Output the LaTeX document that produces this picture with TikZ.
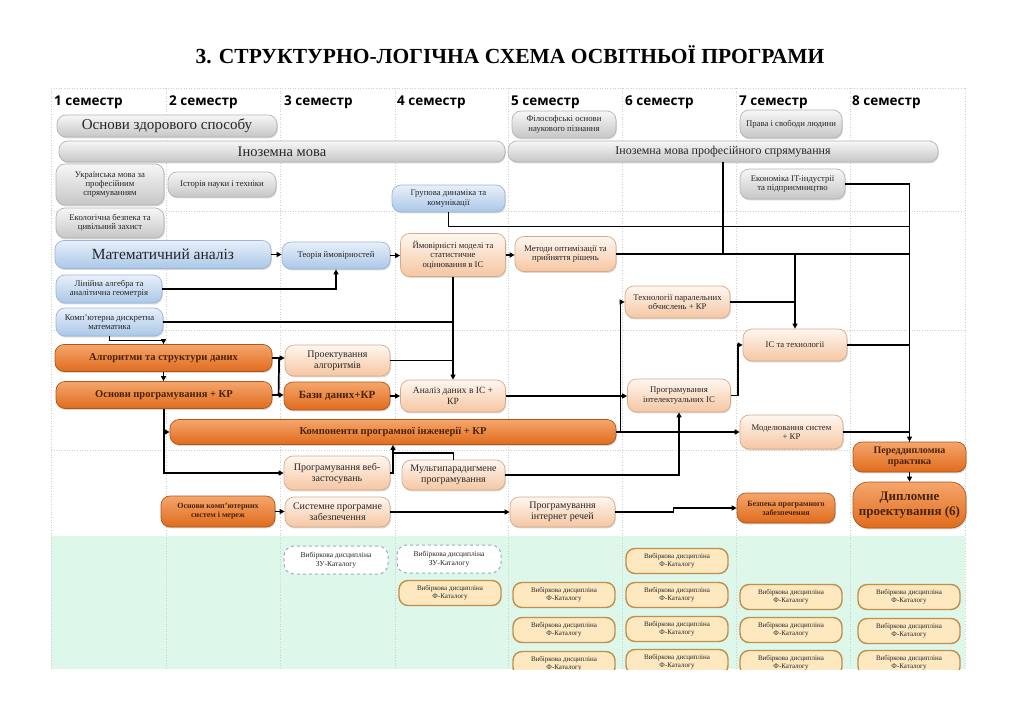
\documentclass[tikz,border=0pt]{standalone}
\usepackage{fontspec}
\setmainfont{Liberation Serif}
\newfontfamily\hdrfont{Open Sans}
\usetikzlibrary{arrows.meta,shadows,calc}
\definecolor{txt}{HTML}{262626}
\definecolor{otxt}{HTML}{4A2208}
\definecolor{gridc}{HTML}{D0D0D0}
\definecolor{mint}{HTML}{DDF7EB}
\definecolor{gtop}{HTML}{F7F7F7}
\definecolor{gbot}{HTML}{C6C6C6}
\definecolor{gdraw}{HTML}{B5B5B5}
\definecolor{btop}{HTML}{E8F0FA}
\definecolor{bbot}{HTML}{AAC7E8}
\definecolor{bdraw}{HTML}{9DB6D3}
\definecolor{ptop}{HTML}{FFF7F0}
\definecolor{pbot}{HTML}{F5C6A2}
\definecolor{pdraw}{HTML}{D8AA8A}
\definecolor{otop}{HTML}{F5A66D}
\definecolor{obot}{HTML}{E06B1C}
\definecolor{odraw}{HTML}{B0561B}
\definecolor{cfill}{HTML}{FDE8C0}
\definecolor{cdraw}{HTML}{BF8F4C}
\definecolor{ddraw}{HTML}{93AFC8}
\newcommand\fsz[2]{\fontsize{#1}{#2}\selectfont}
\begin{document}
\begin{tikzpicture}[x=1pt,y=-1pt,
  box/.style={draw, rounded corners=9pt, align=center, inner sep=1pt, line width=0.7pt, text=txt, font=\fsz{8.7}{9.2}},
  shd/.style={drop shadow={shadow xshift=0.8pt,shadow yshift=-1.4pt,opacity=0.3}},
  gbox/.style={box, shd, top color=gtop, bottom color=gbot, draw=gdraw},
  bbox/.style={box, shd, top color=btop, bottom color=bbot, draw=bdraw},
  pbox/.style={box, shd, top color=ptop, bottom color=pbot, draw=pdraw},
  obox/.style={box, shd, top color=otop, bottom color=obot, draw=odraw, text=otxt},
  cbox/.style={draw=cdraw, fill=cfill, line width=1.4pt, rounded corners=9pt, minimum width=102, minimum height=25, align=center, text=txt, font=\fsz{7}{8}, inner sep=1pt},
  dbox/.style={draw=ddraw, fill=white, dashed, line width=1pt, rounded corners=10pt, minimum width=104, minimum height=28, align=center, text=txt, font=\fsz{7.5}{8.5}, inner sep=1pt},
  arr/.style={line width=1.7pt, -{Triangle[length=5pt,width=5pt]}},
  ln/.style={line width=1.7pt},
  gridl/.style={gridc, dotted, line width=0.6pt},
  hdr/.style={font=\hdrfont\bfseries\fsz{13.5}{15}, text=black, anchor=base west, inner sep=0pt}
]
\useasboundingbox (0,0) rectangle (1032,722);
\fill[white] (0,0) rectangle (1032,722);
% grid
\fill[mint] (51,536) rectangle (965,669);
\foreach \x in {51,166,280,395,508,622,736,850,965} \draw[gridl] (\x,88) -- (\x,669);
\foreach \y in {88,211,330,450} \draw[gridl] (51,\y) -- (965,\y);

\node[font=\bfseries\fsz{21.5}{24}, text=black] (title) at (510,55) {3. СТРУКТУРНО-ЛОГІЧНА СХЕМА ОСВІТНЬОЇ ПРОГРАМИ};

\node[hdr] (s1) at (54,106) {1 семестр};
\node[hdr] (s2) at (169,106) {2 семестр};
\node[hdr] (s3) at (284,106) {3 семестр};
\node[hdr] (s4) at (397,106) {4 семестр};
\node[hdr] (s5) at (511,106) {5 семестр};
\node[hdr] (s6) at (625,106) {6 семестр};
\node[hdr] (s7) at (739,106) {7 семестр};
\node[hdr] (s8) at (852,106) {8 семестр};

% gray
\node[gbox, minimum width=220, minimum height=22, font=\fsz{15}{17}] (zdor) at (167,126) {Основи здорового способу};
\node[gbox, minimum width=446, minimum height=21, font=\fsz{14.5}{16}] (inm) at (282,151.5) {Іноземна мова};
\node[gbox, minimum width=104, minimum height=27] (fil) at (564,124.5) {Філософські основи\\наукового пізнання};
\node[gbox, minimum width=102, minimum height=28] (prav) at (791,124) {Права і свободи людини};
\node[gbox, minimum width=430, minimum height=21, font=\fsz{12}{14}] (inp) at (723,151.5) {Іноземна мова професійного спрямування};
\node[gbox, minimum width=108, minimum height=41] (ukr) at (110,184.5) {Українська мова за\\професійним\\спрямуванням};
\node[gbox, minimum width=108, minimum height=25] (ist) at (222,184.5) {Історія науки і техніки};
\node[gbox, minimum width=108, minimum height=30] (eko) at (110,223) {Екологічна безпека та\\цивільний захист};
\node[gbox, minimum width=105, minimum height=30] (ek) at (792.5,184) {Економіка IT-індустрії\\та підприємництво};

% blue
\node[bbox, minimum width=113, minimum height=27] (gd) at (448.5,198.5) {Групова динаміка та\\комунікації};
\node[bbox, minimum width=216, minimum height=28, font=\fsz{15.5}{17}] (ma) at (163,254.5) {Математичний аналіз};
\node[bbox, minimum width=108, minimum height=27] (tj) at (336,255.5) {Теорія ймовірностей};
\node[bbox, minimum width=106, minimum height=28] (la) at (109,289) {Лінійна алгебра та\\аналітична геометрія};
\node[bbox, minimum width=107, minimum height=28] (kdm) at (109.5,322) {Комп'ютерна дискретна\\математика};

% peach
\node[pbox, minimum width=105, minimum height=43] (ym) at (453,255) {Ймовірністі моделі та\\статистичне\\оцінювання в ІС};
\node[pbox, minimum width=101, minimum height=35] (mo) at (565.5,254) {Методи оптимізації та\\прийняття рішень};
\node[pbox, minimum width=105, minimum height=32] (tpo) at (677.5,302) {Технології паралельних\\обчислень + КР};
\node[pbox, minimum width=104, minimum height=32] (is) at (795,345) {ІС та технології};
\node[pbox, minimum width=105, minimum height=31, font=\fsz{10}{11}] (pa) at (337.5,360.5) {Проектування\\алгоритмів};
\node[pbox, minimum width=105, minimum height=32, font=\fsz{9.5}{10.5}] (ad) at (453,396) {Аналіз даних в ІС +\\КР};
\node[pbox, minimum width=103, minimum height=33] (pii) at (679,395.5) {Програмування\\інтелектуальних ІС};
\node[pbox, minimum width=103, minimum height=34] (ms) at (791.5,432) {Моделювання систем\\+ КР};
\node[pbox, minimum width=106, minimum height=34, font=\fsz{10}{11}] (pw) at (337,473) {Програмування веб-\\застосувань};
\node[pbox, minimum width=103, minimum height=30, font=\fsz{10}{11}] (mp) at (453.5,475) {Мультипарадигмене\\програмування};
\node[pbox, minimum width=105, minimum height=30, font=\fsz{10}{11}] (sp) at (337.5,512) {Системне програмне\\забезпечення};
\node[pbox, minimum width=105, minimum height=30, font=\fsz{10}{11}] (ir) at (562.5,512) {Програмування\\інтернет речей};

% orange
\node[obox, minimum width=217, minimum height=27, font=\bfseries\fsz{10.5}{12}] (asd) at (163.5,358) {Алгоритми та структури даних};
\node[obox, minimum width=216, minimum height=27, font=\bfseries\fsz{10.5}{12}] (op) at (164,395) {Основи програмування + КР};
\node[obox, minimum width=106, minimum height=28, font=\bfseries\fsz{11}{12}] (bd) at (337,396) {Бази даних+КР};
\node[obox, minimum width=446, minimum height=25, font=\bfseries\fsz{10.5}{12}] (kpi) at (393,432) {Компоненти програмної інженерії + КР};
\node[obox, minimum width=113, minimum height=30, font=\bfseries\fsz{10}{11}] (pp) at (909.5,457) {Переддипломна\\практика};
\node[obox, minimum width=113, minimum height=46, rounded corners=15pt, font=\bfseries\fsz{13}{15}] (dp) at (909.5,505) {Дипломне\\проектування (6)};
\node[obox, minimum width=114, minimum height=31, font=\bfseries\fsz{8}{9}] (ks) at (218,511.5) {Основи комп'ютерних\\систем і мереж};
\node[obox, minimum width=98, minimum height=30, font=\bfseries\fsz{8}{9}] (bz) at (786,508) {Безпека програмного\\забезпечення};

% connectors
\draw[arr] (ma.east) -- (ma.east -| tj.west);
\draw[arr] (tj.east) -- (tj.east -| ym.west);
\draw[arr] (ym.east) -- (ym.east -| mo.west);
\draw[arr] (la.east) -| (tj.south);
\draw[ln] (kdm.east) -- (kdm.east -| ym.south);
\draw[ln] (pa.east) -- (pa.east -| ym.south);
\draw[arr] (ym.south) -- (ad.north);
\draw[arr] (kdm.south) -- ++(0,4) -| (asd.north);
\draw[arr] (asd.south) -- (asd.south |- op.north);
\draw[arr] (asd.east) -- (asd.east -| pa.west);
\draw[arr] (op.east) -- (op.east -| bd.west);
\draw[ln] ($(asd.east)!0.55!(asd.east -| pa.west)$) -- ($(op.east)!0.55!(op.east -| bd.west)$);
\draw[arr] (bd.east) -- (bd.east -| ad.west);
\draw[arr] (ad.east) -- (ad.east -| pii.west);
\draw[arr] (kpi.east) -- ++(4,0) |- (tpo.west);
\draw[arr] (kpi.east) -- (ms.west);
\draw[arr] (pii.east) -- ++(7,0) |- (is.west);
\draw[arr] (ek.east) -| (pp.north);
\draw[ln] (gd.south) -- ++(0,14) -| (pp.north);
\draw[ln] (inp.south) -- (inp.south |- mo.east);
\draw[ln] (mo.east) -| (pp.north);
\draw[arr] (mo.east -| is.north) -- (is.north);
\draw[ln] (tpo.east) -- (tpo.east -| is.north);
\draw[ln] (is.east) -- (is.east -| pp.north);
\draw[ln] (ms.east) -- (ms.east -| pp.north);
\draw[arr] (pp.south) -- (dp.north);
\draw[arr] (op.south) |- (pw.west);
\draw[arr] (op.south |- kpi.west) -- (kpi.west);
\draw[arr] (pw.east) -| (kpi.south);
\draw[ln] (mp.north) |- ($(kpi.south)+(0,8)$);
\draw[arr] (mp.east) -| (pii.south);
\draw[arr] (ks.east) -- (ks.east -| sp.west);
\draw[arr] (sp.east) -- (sp.east -| ir.west);
\draw[arr] (ir.east) -- ++(58,0) |- (bz.west);

% electives
\begin{scope}
\clip (51,536) rectangle (965,669);
\node[dbox] (z1) at (336,560) {Вибіркова дисципліна\\ЗУ-Каталогу};
\node[dbox] (z2) at (449,559) {Вибіркова дисципліна\\ЗУ-Каталогу};
\node[cbox] (f41) at (450,593) {Вибіркова дисципліна\\Ф-Каталогу};
\node[cbox] (f51) at (564,595) {Вибіркова дисципліна\\Ф-Каталогу};
\node[cbox] (f52) at (564,630) {Вибіркова дисципліна\\Ф-Каталогу};
\node[cbox] (f53) at (564,664) {Вибіркова дисципліна\\Ф-Каталогу};
\node[cbox] (f61) at (677,561) {Вибіркова дисципліна\\Ф-Каталогу};
\node[cbox] (f62) at (677,595) {Вибіркова дисципліна\\Ф-Каталогу};
\node[cbox] (f63) at (677,629) {Вибіркова дисципліна\\Ф-Каталогу};
\node[cbox] (f64) at (677,662) {Вибіркова дисципліна\\Ф-Каталогу};
\node[cbox] (f71) at (791,597) {Вибіркова дисципліна\\Ф-Каталогу};
\node[cbox] (f72) at (791,630) {Вибіркова дисципліна\\Ф-Каталогу};
\node[cbox] (f73) at (791,663) {Вибіркова дисципліна\\Ф-Каталогу};
\node[cbox] (f81) at (909,597) {Вибіркова дисципліна\\Ф-Каталогу};
\node[cbox] (f82) at (909,631) {Вибіркова дисципліна\\Ф-Каталогу};
\node[cbox] (f83) at (909,663) {Вибіркова дисципліна\\Ф-Каталогу};
\end{scope}
\end{tikzpicture}
\end{document}
